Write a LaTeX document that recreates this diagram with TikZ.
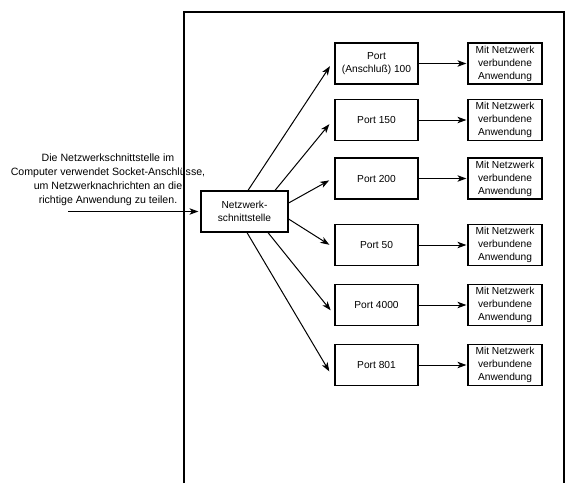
\documentclass[tikz,border=0pt]{standalone}
\usepackage{fontspec}
\setmainfont{Liberation Sans}
\usetikzlibrary{arrows.meta}

\begin{document}
\begin{tikzpicture}[x=1pt, y=-1pt,
        box/.style={draw, line width=1.2pt, inner sep=0pt, align=center,
            font=\fontsize{10.2}{13}\selectfont},
        portbox/.style={box, minimum width=83pt, minimum height=41pt},
        appbox/.style={box, minimum width=74pt, minimum height=41pt},
        link/.style={line width=1pt, -{Stealth[length=9pt, width=6.5pt, inset=2.5pt]}}]

        \useasboundingbox (0, 0) rectangle (580, 495);

        % computer frame, open at the bottom
        \draw[line width=1.4pt] (184, 483) -- (184, 12) -- (564, 12) -- (564, 483);

        \node[box, minimum width=87pt, minimum height=41pt] (net) at (244.5, 211.5) {Netzwerk-\\schnittstelle};

        \node[portbox] (p100) at (376.5, 63.5) {Port\\(Anschluß) 100};
        \node[portbox] (p150) at (376.5, 120) {Port 150};
        \node[portbox] (p200) at (376.5, 178.5) {Port 200};
        \node[portbox] (p50) at (376.5, 245) {Port 50};
        \node[portbox] (p4000) at (376.5, 305) {Port 4000};
        \node[portbox] (p801) at (376.5, 365) {Port 801};

        \node[appbox] (a100) at (505, 63.5) {Mit Netzwerk\\verbundene\\Anwendung};
        \node[appbox] (a150) at (505, 120) {Mit Netzwerk\\verbundene\\Anwendung};
        \node[appbox] (a200) at (505, 178.5) {Mit Netzwerk\\verbundene\\Anwendung};
        \node[appbox] (a50) at (505, 245) {Mit Netzwerk\\verbundene\\Anwendung};
        \node[appbox] (a4000) at (505, 305) {Mit Netzwerk\\verbundene\\Anwendung};
        \node[appbox] (a801) at (505, 365) {Mit Netzwerk\\verbundene\\Anwendung};

        \node[align=center, font=\fontsize{10.6}{14}\selectfont] (note) at (108, 179.5)
            {Die Netzwerkschnittstelle im\\Computer verwendet Socket-Anschlüsse,\\um Netzwerknachrichten an die\\richtige Anwendung zu teilen.};

        % incoming messages
        \coordinate (in) at (68, 211.5);
        \draw[link, shorten >=2pt] (in) -- (net.west);

        % interface to ports
        \draw[link, shorten >=8pt] ([xshift=3.5pt]net.north) -- ([yshift=4pt]p100.west);
        \draw[link, shorten >=8pt] ([xshift=30.5pt]net.north) -- ([yshift=2pt]p150.west);
        \draw[link, shorten >=6pt] ([yshift=8.5pt]net.east) -- ([yshift=1pt]p200.west);
        \draw[link, shorten >=6pt] ([yshift=-7.5pt]net.east) -- ([yshift=-3pt]p50.west);
        \draw[link, shorten >=6pt] ([xshift=23.5pt]net.south) -- ([yshift=-10pt]p4000.west);
        \draw[link, shorten >=10pt] ([xshift=2.5pt]net.south) -- ([yshift=-15pt]p801.west);

        % ports to applications
        \draw[link, shorten >=1pt] (p100) -- (a100);
        \draw[link, shorten >=1pt] (p150) -- (a150);
        \draw[link, shorten >=1pt] (p200) -- (a200);
        \draw[link, shorten >=1pt] (p50) -- (a50);
        \draw[link, shorten >=1pt] (p4000) -- (a4000);
        \draw[link, shorten >=1pt] (p801) -- (a801);

    \end{tikzpicture}
\end{document}
